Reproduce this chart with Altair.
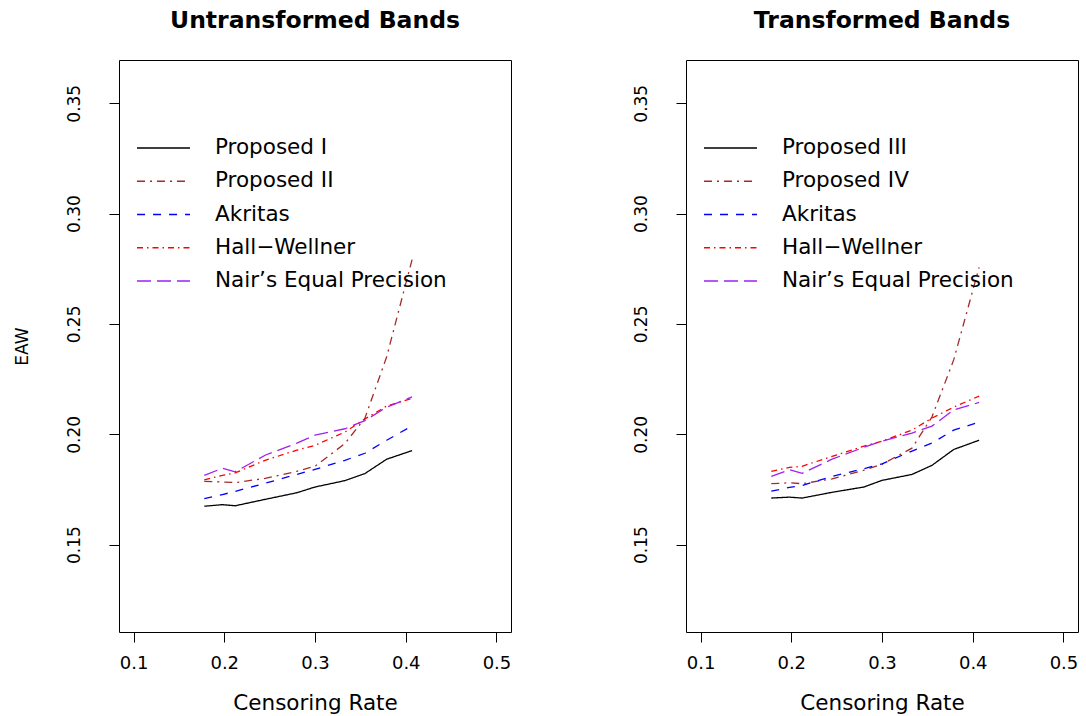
import altair as alt
import pandas as pd

# ---- data ----
rates = [0.178, 0.198, 0.212, 0.245, 0.280, 0.300, 0.333, 0.355, 0.379, 0.407]

left_labels = ["Proposed I", "Proposed II", "Akritas", "Hall\u2212Wellner", "Nair\u2019s Equal Precision"]
right_labels = ["Proposed III", "Proposed IV", "Akritas", "Hall\u2212Wellner", "Nair\u2019s Equal Precision"]

# Untransformed bands
u_prop1 = [0.1674, 0.1681, 0.1676, 0.1705, 0.1735, 0.1761, 0.1790, 0.1822, 0.1887, 0.1926]
u_prop2 = [0.1787, 0.1784, 0.1781, 0.1800, 0.1832, 0.1855, 0.1958, 0.2073, 0.2351, 0.2792]
u_akritas = [0.1708, 0.1727, 0.1741, 0.1778, 0.1818, 0.1841, 0.1882, 0.1914, 0.1973, 0.2038]
u_hall = [0.1793, 0.1814, 0.1825, 0.1882, 0.1928, 0.1950, 0.2010, 0.2069, 0.2128, 0.2163]
u_nair = [0.1814, 0.1846, 0.1830, 0.1905, 0.1960, 0.1996, 0.2025, 0.2062, 0.2123, 0.2169]

# Transformed bands
t_prop3 = [0.1711, 0.1715, 0.1711, 0.1737, 0.1761, 0.1791, 0.1818, 0.1859, 0.1931, 0.1973]
t_prop4 = [0.1776, 0.1780, 0.1776, 0.1798, 0.1837, 0.1864, 0.1937, 0.2078, 0.2337, 0.2756]
t_akritas = [0.1742, 0.1759, 0.1768, 0.1809, 0.1844, 0.1866, 0.1924, 0.1960, 0.2019, 0.2055]
t_hall = [0.1832, 0.1850, 0.1855, 0.1900, 0.1946, 0.1969, 0.2019, 0.2073, 0.2123, 0.2173]
t_nair = [0.1809, 0.1839, 0.1823, 0.1887, 0.1941, 0.1969, 0.2005, 0.2037, 0.2110, 0.2144]

x_ticks = [0.1, 0.2, 0.3, 0.4, 0.5]
y_ticks = [0.15, 0.20, 0.25, 0.30, 0.35]

# ---- styling ----
keys = ["s1", "s2", "s3", "s4", "s5"]
colors = ["black", "#A52A2A", "blue", "red", "#A020F0"]
dashes = [[1, 0], [8, 5, 2, 5], [8, 8], [6, 4, 1.5, 4], [14, 6]]
FONT = "DejaVu Sans"
W, H = 392, 572


def panel(title, labels, series, ytitle):
    rows = []
    for k, lab, vals in zip(keys, labels, series):
        for r, v in zip(rates, vals):
            rows.append({"key": k, "label": lab, "rate": r, "eaw": v})
    df = pd.DataFrame(rows)

    cscale = alt.Scale(domain=keys, range=colors)
    dscale = alt.Scale(domain=keys, range=dashes)

    yaxis = alt.Axis(values=y_ticks, format=".2f", title=ytitle if ytitle else None)

    lines = alt.Chart(df).mark_line(strokeWidth=1.3).encode(
        x=alt.X("rate:Q",
                scale=alt.Scale(domain=[0.084, 0.516], nice=False, zero=False),
                axis=alt.Axis(values=x_ticks, format=".1f", title="Censoring Rate")),
        y=alt.Y("eaw:Q",
                scale=alt.Scale(domain=[0.1104, 0.3696], nice=False, zero=False),
                axis=yaxis),
        color=alt.Color("key:N", scale=cscale, legend=None),
        strokeDash=alt.StrokeDash("key:N", scale=dscale, legend=None),
    )

    leg = pd.DataFrame({"key": keys, "label": labels, "row": list(range(5))})
    leg_y = alt.Y("row:Q", scale=alt.Scale(domain=[0, 4], range=[88, 221]), axis=None)
    rules = alt.Chart(leg).mark_rule(strokeWidth=1.3).encode(
        x=alt.value(18), x2=alt.value(71), y=leg_y,
        color=alt.Color("key:N", scale=cscale, legend=None),
        strokeDash=alt.StrokeDash("key:N", scale=dscale, legend=None),
    )
    texts = alt.Chart(leg).mark_text(align="left", baseline="middle", font=FONT,
                                     fontSize=21.5, color="black").encode(
        x=alt.value(96), y=leg_y, text="label:N"
    )

    return alt.layer(lines, rules, texts).resolve_scale(y="independent").properties(
        width=W, height=H,
        title=alt.Title(title, font=FONT, fontSize=23.5, fontWeight="bold",
                        anchor="middle", frame="group", offset=28, color="black"),
    )


left = panel("Untransformed Bands", left_labels,
             [u_prop1, u_prop2, u_akritas, u_hall, u_nair], "EAW")
right = panel("Transformed Bands", right_labels,
              [t_prop3, t_prop4, t_akritas, t_hall, t_nair], None)

chart = alt.hconcat(left, right, spacing=119).properties(
    padding={"left": 12, "top": 8, "right": 0, "bottom": 0},
    background="white",
).configure_view(
    stroke="black", strokeWidth=1
).configure_axis(
    domain=False, grid=False, ticks=True, tickSize=10, tickColor="black", tickWidth=1,
    labelColor="black", titleColor="black", labelFont=FONT, titleFont=FONT,
    titleFontWeight="normal",
).configure_axisX(
    labelFontSize=18, labelPadding=12, titleFontSize=21.5, titlePadding=20,
).configure_axisY(
    labelFontSize=17, labelAngle=270, labelAlign="center", labelBaseline="bottom",
    labelPadding=26, titleFontSize=17, titlePadding=34,
)

chart.save("out.html", embed_options={"renderer": "svg", "actions": False})
